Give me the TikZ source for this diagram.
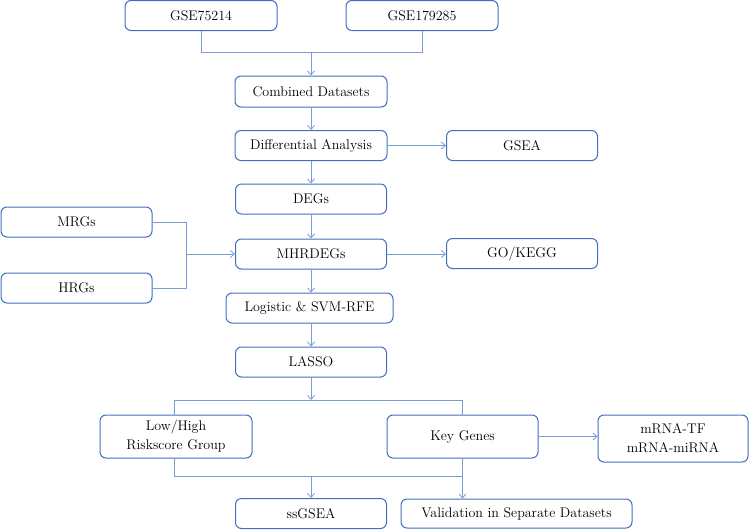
\documentclass[tikz,border=0pt]{standalone}
\usepackage{fontspec}
\usetikzlibrary{arrows.meta}
\definecolor{boxblue}{HTML}{4170BE}
\definecolor{lineblue}{HTML}{7A9AD8}
\begin{document}
\begin{tikzpicture}[x=1pt,y=-1pt,
  box/.style={draw=boxblue,line width=1pt,rounded corners=6pt,fill=white,
    align=center,inner sep=0pt,font=\fontsize{14}{19}\selectfont},
  conn/.style={draw=lineblue,line width=0.8pt},
  arr/.style={conn,-{Straight Barb[length=4pt,width=7pt]}}]
\useasboundingbox (0,0) rectangle (750,530);
% nodes
\node[box,minimum width=152pt,minimum height=30pt] (g1) at (201,15.5) {GSE75214};
\node[box,minimum width=152pt,minimum height=30pt] (g2) at (422,15.5) {GSE179285};
\node[box,minimum width=152pt,minimum height=31pt] (comb) at (311,91.5) {Combined Datasets};
\node[box,minimum width=152pt,minimum height=30pt] (diff) at (311,145.5) {Differential Analysis};
\node[box,minimum width=151pt,minimum height=30pt] (gsea) at (522,145.5) {GSEA};
\node[box,minimum width=151pt,minimum height=30pt] (degs) at (311,199) {DEGs};
\node[box,minimum width=151pt,minimum height=30pt] (mhr) at (311,254) {MHRDEGs};
\node[box,minimum width=151pt,minimum height=30pt] (gokegg) at (522,253.5) {GO/KEGG};
\node[box,minimum width=151pt,minimum height=30pt] (mrgs) at (76.5,222) {MRGs};
\node[box,minimum width=151pt,minimum height=30pt] (hrgs) at (76.5,288) {HRGs};
\node[box,minimum width=167pt,minimum height=30pt] (logi) at (309.5,308) {Logistic \& SVM-RFE};
\node[box,minimum width=151pt,minimum height=30pt] (lasso) at (311,362) {LASSO};
\node[box,minimum width=152pt,minimum height=43pt] (low) at (176,436.5) {Low/High\\Riskscore Group};
\node[box,minimum width=151pt,minimum height=43pt] (key) at (462.5,436.5) {Key Genes};
\node[box,minimum width=150pt,minimum height=47pt] (mrna) at (673,438.5) {mRNA-TF\\mRNA-miRNA};
\node[box,minimum width=151pt,minimum height=30pt] (ss) at (311,513.5) {ssGSEA};
\node[box,minimum width=231pt,minimum height=29pt] (val) at (516.5,513.5) {Validation in Separate Datasets};
% junction coordinates
\coordinate (j1) at (311,52);
\coordinate (j2) at (186,254);
\coordinate (j3) at (311,400);
\coordinate (j4) at (311,476);
% connectors
\draw[conn] (g1.south) -- (g1.south |- j1) -- (g2.south |- j1) -- (g2.south);
\draw[arr] (j1) -- (comb.north);
\draw[arr] (comb) -- (diff);
\draw[arr] (diff) -- (gsea);
\draw[arr] (diff) -- (degs);
\draw[arr] (degs) -- (mhr);
\draw[arr] (mhr) -- (gokegg.west |- mhr);
\draw[arr] (mhr) -- (logi.north -| mhr);
\draw[arr] (logi.south -| lasso) -- (lasso);
\draw[conn] (mrgs.east) -- (mrgs.east -| j2) -- (hrgs.east -| j2) -- (hrgs.east);
\draw[arr] (j2) -- (mhr.west);
\draw[arr] (lasso) -- (j3);
\draw[conn] (low.north -| 174,0) -- (174,400) -- (key.north |- j3) -- (key.north);
\draw[arr] (key.east) -- (mrna.west |- key.east);
\draw[conn] (low.south -| 174,0) -- (174,476) -- (key.south |- j4) -- (key.south);
\draw[arr] (j4) -- (ss.north);
\draw[arr] (key.south |- j4) -- (key.south |- val.north);
\end{tikzpicture}
\end{document}
